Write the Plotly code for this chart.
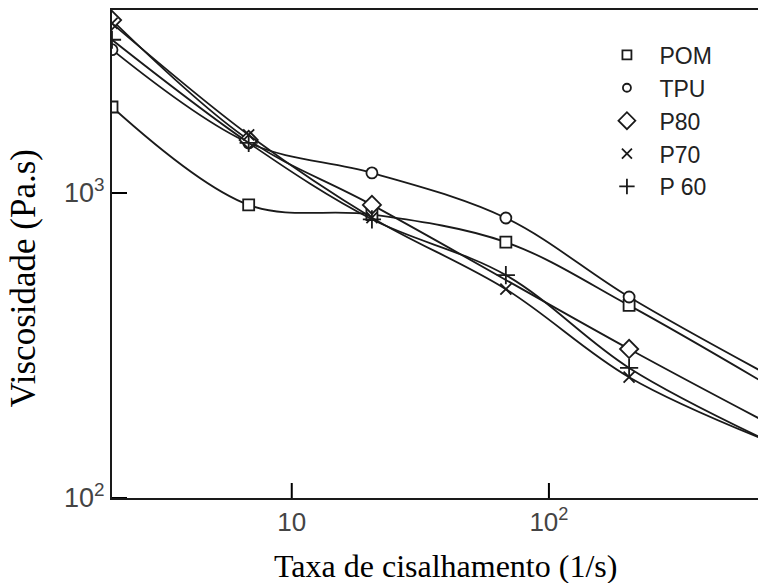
import numpy as np
import plotly.graph_objects as go

# Shear rate (1/s) at which viscosity was measured
shear_rate = [2.0, 6.8, 20.5, 68, 205, 720]
shear_rate_p80 = [2.0, 6.8, 20.5, 205, 720]

# Viscosity (Pa.s) for each material
pom = [1914, 914, 850, 690, 428, 233]
tpu = [2950, 1460, 1164, 828, 456, 252]
p80 = [3690, 1493, 914, 308, 175]
p70 = [3600, 1550, 830, 484, 249, 153]
p60 = [3180, 1460, 820, 538, 267, 153]

names = ["POM", "TPU", "P80", "P70", "P 60"]
symbols = ["square", "circle", "diamond", "x-thin", "cross-thin"]
filled = [True, True, True, False, False]
marker_sizes = [11, 11, 14, 11, 13]
legend_sizes = [9, 8, 13, 10, 11]

x_tick_vals = [10, 100]
x_tick_text = ["10", "10<sup>2</sup>"]
y_tick_vals = [100, 1000]
y_tick_text = ["10<sup>2</sup>", "10<sup>3</sup>"]

series = [
    (shear_rate, pom),
    (shear_rate, tpu),
    (shear_rate_p80, p80),
    (shear_rate, p70),
    (shear_rate, p60),
]

ink = "#1a1a1a"
W, H = 758, 583
M = dict(l=112, r=0, t=10, b=85)
plot_w = W - M["l"] - M["r"]
plot_h = H - M["t"] - M["b"]
tick_len = 15  # px, drawn pointing into the plot


def marker_style(sym, size, has_fill):
    # Closed symbols get a white face so the curve stops at the outline;
    # the thin x / + glyphs are pure strokes.
    return dict(symbol=sym, size=size,
                color="white" if has_fill else ink,
                line=dict(color=ink, width=1.8))


fig = go.Figure()

for (xs, ys), sym, ms, fl in zip(series, symbols, marker_sizes, filled):
    fig.add_trace(go.Scatter(
        x=xs, y=ys, mode="lines+markers",
        line=dict(color=ink, width=1.8, shape="spline", smoothing=1.0),
        marker=marker_style(sym, ms, fl),
        showlegend=False,
    ))

# Legend entries (markers only)
for name, sym, ms, fl in zip(names, symbols, legend_sizes, filled):
    fig.add_trace(go.Scatter(
        x=[None], y=[None], mode="markers", name=name,
        marker=marker_style(sym, ms, fl),
    ))

# Inward tick marks at the labelled decades
tick_shapes = []
for v in x_tick_vals:
    tick_shapes.append(dict(type="line", xref="x", yref="paper",
                            x0=v, x1=v, y0=0, y1=tick_len / plot_h,
                            line=dict(color="black", width=2)))
for v in y_tick_vals:
    tick_shapes.append(dict(type="line", xref="paper", yref="y",
                            x0=0, x1=tick_len / plot_w, y0=v, y1=v,
                            line=dict(color="black", width=2)))

axis_common = dict(
    type="log", showgrid=False, zeroline=False,
    showline=True, linecolor=ink, linewidth=2,
    ticks="", tickmode="array",
)

fig.update_layout(
    width=W, height=H,
    margin=M,
    paper_bgcolor="white", plot_bgcolor="white",
    font=dict(family="Liberation Sans, Arial, sans-serif", color=ink),
    legend=dict(
        x=0.7468, y=0.952, xanchor="left", yanchor="top",
        font=dict(family="Liberation Sans, Arial, sans-serif", size=23, color="#222"),
        bgcolor="rgba(0,0,0,0)", itemwidth=55, tracegroupgap=0,
    ),
    xaxis=dict(
        axis_common, range=[np.log10(2.0), 2.813], mirror=True,
        tickvals=x_tick_vals, ticktext=x_tick_text,
        tickfont=dict(size=26, color="#444"),
    ),
    yaxis=dict(
        axis_common, range=[2, 3.6], mirror=False,
        tickvals=y_tick_vals, ticktext=y_tick_text,
        tickfont=dict(size=27, color="#444"),
    ),
    shapes=tick_shapes,
    annotations=[
        dict(text="Taxa de cisalhamento (1/s)", xref="paper", yref="paper",
             x=0.5155, y=-0.139, showarrow=False, xanchor="center", yanchor="middle",
             font=dict(family="Liberation Serif, Times New Roman, serif", size=32, color="black")),
        dict(text="Viscosidade (Pa.s)", xref="paper", yref="paper",
             x=-0.137, y=0.451, showarrow=False, xanchor="center", yanchor="middle",
             textangle=-90,
             font=dict(family="Liberation Serif, Times New Roman, serif", size=35, color="black")),
    ],
)

fig.write_html("out.html")
